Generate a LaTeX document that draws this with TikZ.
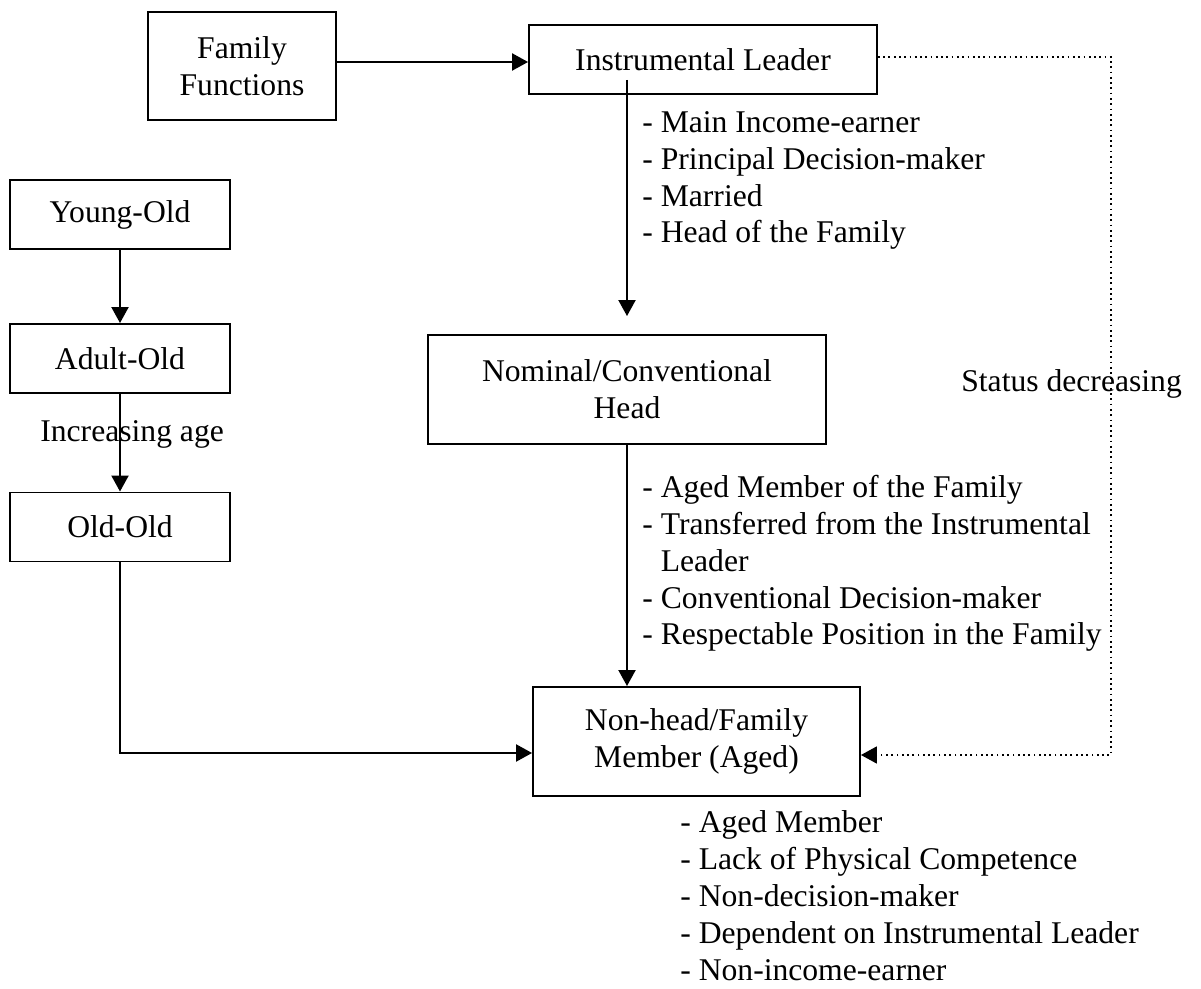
\documentclass[tikz,border=0pt]{standalone}
\usepackage{fontspec}
\setmainfont{Liberation Serif}
\usetikzlibrary{arrows.meta}

\begin{document}
\begin{tikzpicture}[x=0.02cm,y=-0.02cm,font=\fontsize{18pt}{21pt}\selectfont]
  \useasboundingbox (0,0) rectangle (1201,989);
  \begin{scope}[every node/.style={draw,line width=1.1pt,align=center,inner sep=0pt}]
    \node[minimum width=3.76cm,minimum height=2.16cm] (FF) at (242,66) {Family\\Functions};
    \node[minimum width=6.96cm,minimum height=1.38cm] (IL) at (703,59.5) {Instrumental Leader};
    \node[minimum width=4.4cm,minimum height=1.38cm] (YO) at (120,214.5) {Young-Old};
    \node[minimum width=4.4cm,minimum height=1.38cm] (AO) at (120,358.5) {Adult-Old};
    \node[minimum width=4.4cm,minimum height=1.38cm] (OO) at (120,527) {Old-Old};
    \node[minimum width=7.96cm,minimum height=2.18cm] (NC) at (627,389.5) {Nominal/Conventional\\Head};
    \node[minimum width=6.54cm,minimum height=2.18cm] (NH) at (696.5,741.5) {Non-head/Family\\Member (Aged)};
  \end{scope}
  % lists are placed by the baseline of their last line
  \begin{scope}[every node/.style={align=left,anchor=base west,inner sep=0pt}]
    \node (ILlist) at (642,243) {- Main Income-earner\\- Principal Decision-maker\\- Married\\- Head of the Family};
    \node (NClist) at (642,645) {- Aged Member of the Family\\- Transferred from the Instrumental\\\hphantom{- }Leader\\- Conventional Decision-maker\\- Respectable Position in the Family};
    \node (NHlist) at (680,980) {- Aged Member\\- Lack of Physical Competence\\- Non-decision-maker\\- Dependent on Instrumental Leader\\- Non-income-earner};
    \node (age) at (40,442) {Increasing age};
    \node (status) at (961,392) {Status decreasing};
  \end{scope}
  \begin{scope}[>={Triangle[length=0.32cm,width=0.34cm]},line width=1.2pt]
    \coordinate (sdbend) at (1111,0);
    \draw[->] ([yshift=0.08cm]FF.east) -- ([yshift=0.08cm]FF.east -| IL.west);
    \draw[->] ([yshift=0.3cm]IL.south -| NC.north) -- ([yshift=0.36cm]NC.north);
    \draw[->] (NC.south) -- (NC.south |- NH.north);
    \draw[->] (YO.south) -- (AO.north);
    \draw[->] (AO.south) -- (OO.north);
    \draw[->] (OO.south) |- ([yshift=-0.23cm]NH.west);
    \draw[->,dotted,line width=1pt] ([yshift=0.05cm]IL.east) -- ([yshift=0.05cm]IL.east -| sdbend) |- ([yshift=-0.27cm]NH.east);
  \end{scope}
\end{tikzpicture}
\end{document}
